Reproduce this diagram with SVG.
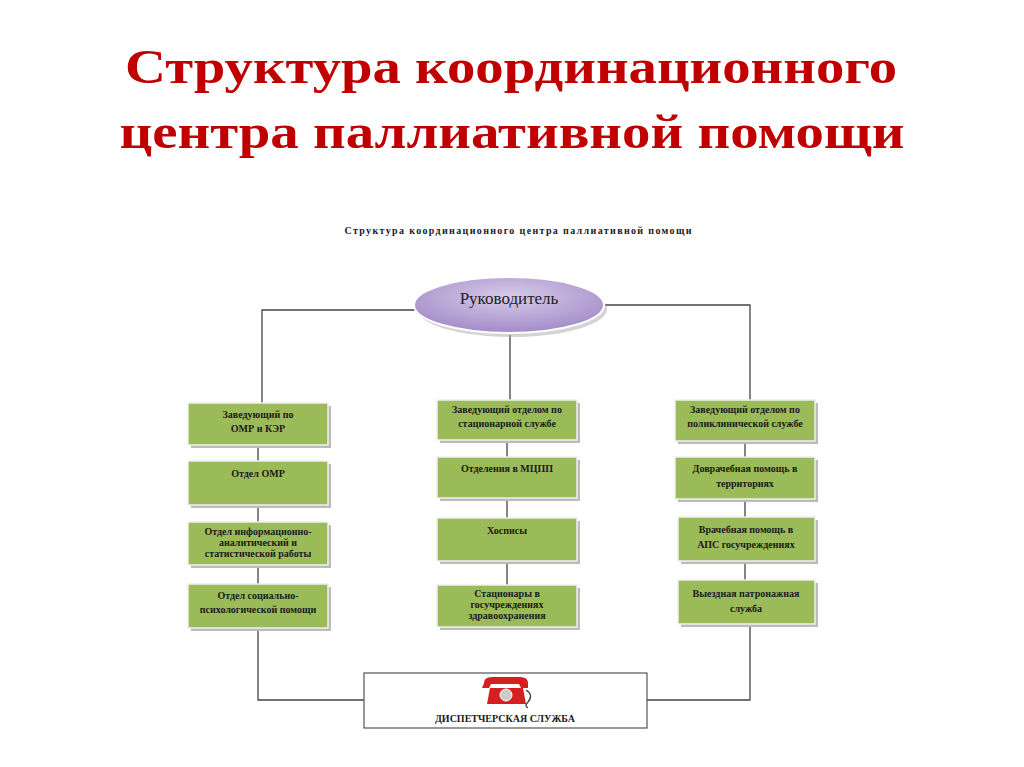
<svg xmlns="http://www.w3.org/2000/svg" width="1024" height="767" viewBox="0 0 1024 767">
<defs>
<style>
.t{font-family:"Liberation Serif",serif;font-weight:bold;fill:#1a1a1a;font-size:10px;text-anchor:middle}
.b{fill:#9bbb59;stroke:#f0f0f0;stroke-width:1.5}
.s{fill:#bbbbbb}
.c{stroke:#444;stroke-width:1.3;fill:none}
</style>
<radialGradient id="eg" cx="0.5" cy="0.35" r="0.7">
<stop offset="0" stop-color="#d8cbe9"/><stop offset="1" stop-color="#9f86c6"/>
</radialGradient>
</defs>
<rect width="1024" height="767" fill="#fff"/>
<text x="511" y="83" font-family="Liberation Serif,serif" font-weight="bold" font-size="48" fill="#c00000" text-anchor="middle" textLength="772" lengthAdjust="spacingAndGlyphs">Структура координационного</text>
<text x="512" y="148" font-family="Liberation Serif,serif" font-weight="bold" font-size="48" fill="#c00000" text-anchor="middle" textLength="785" lengthAdjust="spacingAndGlyphs">центра паллиативной помощи</text>
<text x="518" y="234" class="t" font-size="10" textLength="347">Структура координационного  центра паллиативной  помощи</text>
<g id="connectors">
<path class="c" d="M415 310H262V403M605 305H750V400M510 335V400"/>
<path class="c" d="M258 445V461M258 505V522M258 565V584M258 628V700H364"/>
<path class="c" d="M507 440V457M507 498V518M507 561V585"/>
<path class="c" d="M745 441V457M745 499V517M745 561V580M750 624V700H647"/>
</g>
<g id="n0"><ellipse cx="512" cy="309" rx="95" ry="28" fill="#aaa" opacity="0.5"/><ellipse cx="509" cy="305" rx="95" ry="28" fill="url(#eg)" stroke="#fff" stroke-width="2"/>
<text x="509" y="304" font-family="Liberation Serif,serif" font-size="17" text-anchor="middle" fill="#222">Руководитель</text></g>
<g id="L1"><rect class="s" x="191" y="406" width="140" height="42"/><rect class="b" x="188" y="403" width="140" height="42"/><text class="t" x="258" y="418">Заведующий по</text><text class="t" x="258" y="432">ОМР и КЭР</text></g>
<g id="L2"><rect class="s" x="191" y="464" width="140" height="44"/><rect class="b" x="188" y="461" width="140" height="44"/><text class="t" x="258" y="477">Отдел ОМР</text></g>
<g id="L3"><rect class="s" x="191" y="525" width="140" height="43"/><rect class="b" x="188" y="522" width="140" height="43"/><text class="t" x="258" y="535" font-size="9">Отдел информационно-</text><text class="t" x="258" y="546" font-size="9">аналитический и</text><text class="t" x="258" y="557" font-size="9">статистической работы</text></g>
<g id="L4"><rect class="s" x="191" y="587" width="140" height="44"/><rect class="b" x="188" y="584" width="140" height="44"/><text class="t" x="258" y="599">Отдел социально-</text><text class="t" x="258" y="613">психологической помощи</text></g>
<g id="C1"><rect class="s" x="440" y="403" width="140" height="40"/><rect class="b" x="437" y="400" width="140" height="40"/><text class="t" x="507" y="413">Заведующий отделом по</text><text class="t" x="507" y="427">стационарной службе</text></g>
<g id="C2"><rect class="s" x="440" y="460" width="140" height="41"/><rect class="b" x="437" y="457" width="140" height="41"/><text class="t" x="507" y="472">Отделения в МЦПП</text></g>
<g id="C3"><rect class="s" x="440" y="521" width="140" height="43"/><rect class="b" x="437" y="518" width="140" height="43"/><text class="t" x="507" y="534">Хосписы</text></g>
<g id="C4"><rect class="s" x="440" y="588" width="140" height="42"/><rect class="b" x="437" y="585" width="140" height="42"/><text class="t" x="507" y="597" font-size="9">Стационары в</text><text class="t" x="507" y="608" font-size="9">госучреждениях</text><text class="t" x="507" y="619" font-size="9">здравоохранения</text></g>
<g id="R1"><rect class="s" x="678" y="403" width="140" height="41"/><rect class="b" x="675" y="400" width="140" height="41"/><text class="t" x="745" y="413" font-size="9.5">Заведующий отделом по</text><text class="t" x="745" y="427" font-size="9.5">поликлинической службе</text></g>
<g id="R2"><rect class="s" x="678" y="460" width="140" height="42"/><rect class="b" x="675" y="457" width="140" height="42"/><text class="t" x="745" y="472">Доврачебная помощь в</text><text class="t" x="745" y="487">территориях</text></g>
<g id="R3"><rect class="s" x="681" y="520" width="137" height="44"/><rect class="b" x="678" y="517" width="137" height="44"/><text class="t" x="746" y="533">Врачебная помощь в</text><text class="t" x="746" y="548">АПС госучреждениях</text></g>
<g id="R4"><rect class="s" x="681" y="583" width="137" height="44"/><rect class="b" x="678" y="580" width="137" height="44"/><text class="t" x="746" y="597">Выездная патронажная</text><text class="t" x="746" y="612">служба</text></g>
<g id="D"><rect x="364" y="673" width="283" height="55" fill="#fff" stroke="#555" stroke-width="1.2"/>
<path d="M484 683q0-6 8-6h28q8 0 8 6v5h-7l-2-4h-28l-2 4h-7z" fill="#d42020"/>
<path d="M490 688h33l3 16h-39z" fill="#d42020"/>
<circle cx="506" cy="695" r="6" fill="#ccc" stroke="#fff"/>
<path class="c" d="M526 690q8 5 2 12q-4 4 0 6" stroke="#d42020" stroke-width="1.5"/>
<text class="t" x="505" y="722">ДИСПЕТЧЕРСКАЯ СЛУЖБА</text></g>
</svg>
